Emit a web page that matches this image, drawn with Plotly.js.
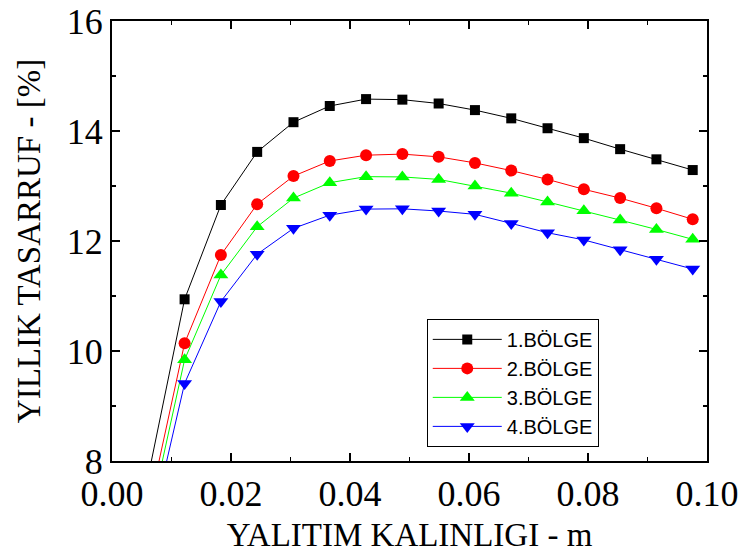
<!DOCTYPE html>
<html>
<head>
<meta charset="utf-8">
<script src="https://cdn.plot.ly/plotly-3.0.1.min.js"></script>
<style>html,body{margin:0;padding:0;background:#fff;}#chart{width:742px;height:556px;}</style>
</head>
<body>
<div id="chart"></div>
<script>
const thickness = [0.0061, 0.0122, 0.0183, 0.0244, 0.0305, 0.0366, 0.0427, 0.0488, 0.0549, 0.0610, 0.0671, 0.0732, 0.0793, 0.0854, 0.0915, 0.0976];
const bolge1 = [7.73, 10.94, 12.655, 13.62, 14.16, 14.455, 14.58, 14.57, 14.50, 14.38, 14.23, 14.05, 13.87, 13.67, 13.485, 13.29];
const bolge2 = [7.10, 10.14, 11.745, 12.67, 13.18, 13.455, 13.56, 13.58, 13.53, 13.42, 13.28, 13.12, 12.94, 12.78, 12.595, 12.395];
const bolge3 = [6.84, 9.84, 11.38, 12.26, 12.78, 13.06, 13.17, 13.165, 13.12, 13.00, 12.87, 12.71, 12.55, 12.38, 12.21, 12.03];
const bolge4 = [6.55, 9.41, 10.90, 11.76, 12.23, 12.47, 12.58, 12.585, 12.545, 12.485, 12.32, 12.15, 12.02, 11.84, 11.67, 11.49];
const seriesNames = ["1.BÖLGE", "2.BÖLGE", "3.BÖLGE", "4.BÖLGE"];
const xTitle = "YALITIM KALINLIGI - m";
const yTitle = "YILLIK TASARRUF - [%]";

const colors = ["#000000", "#ff0000", "#00ff00", "#0000ff"];
const symbols = ["square", "circle", "triangle-up", "triangle-down"];
const sizes = [10, 12, 13, 13];
const ys = [bolge1, bolge2, bolge3, bolge4];

const traces = ys.map((y, i) => ({
  x: thickness, y: y, name: seriesNames[i], type: "scatter", mode: "lines+markers",
  line: {color: colors[i], width: 1},
  marker: {symbol: symbols[i], size: sizes[i], color: colors[i], line: {width: 0}}
}));

const serif = "Liberation Serif";

const layout = {
  width: 742, height: 556,
  margin: {l: 112, r: 35, t: 21, b: 95},
  paper_bgcolor: "#fff", plot_bgcolor: "#fff",
  font: {family: serif, size: 36, color: "#000"},
  showlegend: true,
  legend: {
    x: 0.529, y: 0.323, xanchor: "left", yanchor: "top",
    bgcolor: "#fff", bordercolor: "#000", borderwidth: 1, itemwidth: 69,
    font: {family: "Liberation Sans", size: 20, color: "#000"}
  },
  xaxis: {
    showgrid: false, zeroline: false, showline: true, linecolor: "#000", linewidth: 2,
    mirror: "allticks", ticks: "inside", ticklen: 8, tickwidth: 1.5, tickcolor: "#000",
    tickfont: {family: serif, size: 36, color: "#000"},
    range: [0, 0.10], dtick: 0.02, tick0: 0, tickformat: ".2f",
    minor: {ticks: "inside", ticklen: 4, dtick: 0.01, tickcolor: "#000", tickwidth: 1.5},
    title: {text: xTitle, font: {family: serif, size: 33, color: "#000"}, standoff: 10}
  },
  yaxis: {
    showgrid: false, zeroline: false, showline: true, linecolor: "#000", linewidth: 2,
    mirror: "allticks", ticks: "inside", ticklen: 8, tickwidth: 1.5, tickcolor: "#000",
    tickfont: {family: serif, size: 36, color: "#000"},
    range: [8, 16], dtick: 2, tick0: 8,
    minor: {ticks: "inside", ticklen: 4, dtick: 1, tickcolor: "#000", tickwidth: 1.5},
    title: {text: yTitle, font: {family: serif, size: 33, color: "#000"}, standoff: 16}
  }
};

Plotly.newPlot("chart", traces, layout, {displayModeBar: false, staticPlot: true});
</script>
</body>
</html>
